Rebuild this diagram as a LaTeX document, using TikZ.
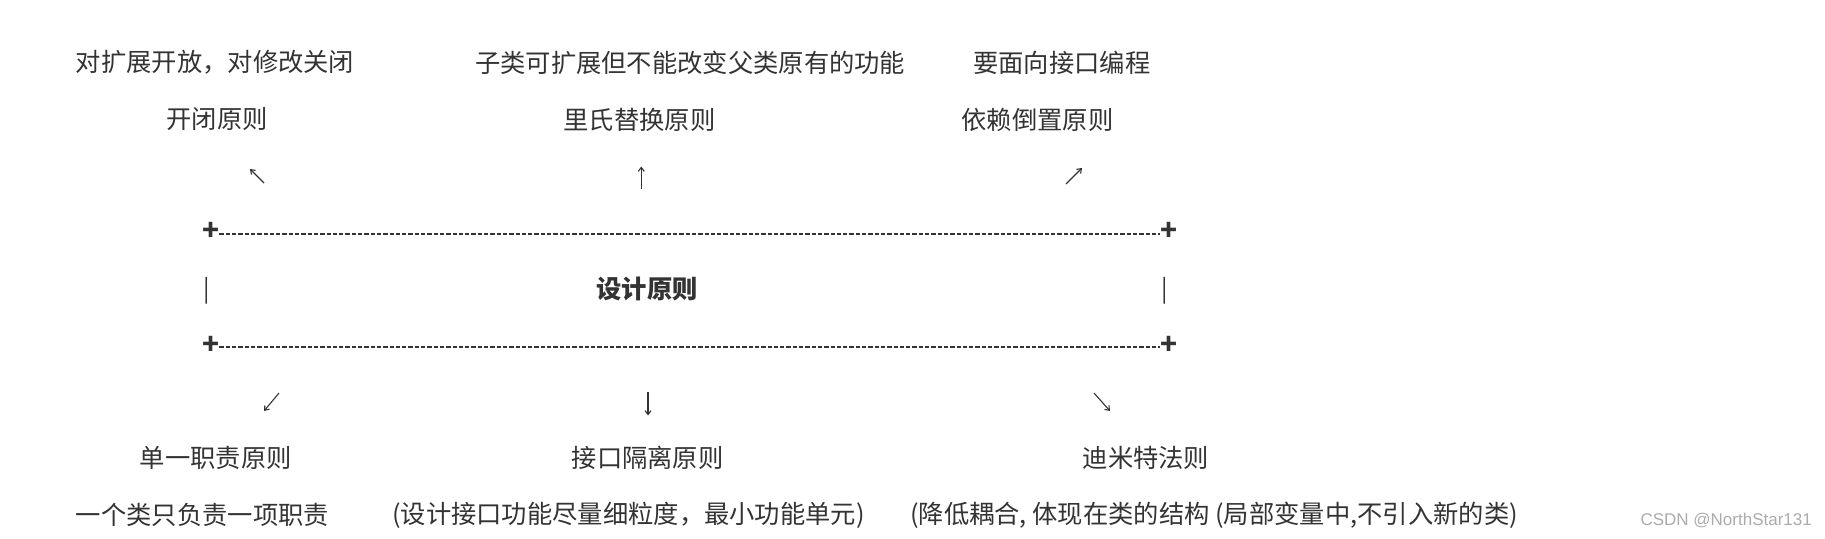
\documentclass[tikz,border=0pt]{standalone}
\usepackage{fontspec}
\setmainfont{Noto Sans CJK SC}
\newfontfamily\wmfont{Liberation Sans}
\usetikzlibrary{arrows.meta}
\definecolor{ink}{HTML}{333333}
\definecolor{wmgray}{HTML}{ABABAB}
\begin{document}
\begin{tikzpicture}[x=1pt,y=-1pt,
  txt/.style={inner sep=0pt, anchor=west, text=ink, font=\fontsize{25.3}{30}\selectfont},
  boldtxt/.style={inner sep=0pt, text=ink, font=\fontsize{25.3}{30}\selectfont\bfseries},
  plus/.style={inner sep=0pt, text=ink, font=\fontsize{28}{32}\selectfont\bfseries},
  bar/.style={inner sep=0pt, text=ink, font=\fontsize{24}{28}\selectfont},
  dashline/.style={draw=ink, line width=2.3pt, dash pattern=on 4.3pt off 2pt},
  arr/.style={draw=ink, line width=1.1pt, -{Straight Barb[length=4pt,width=6pt]}},
  wmark/.style={inner sep=0pt, anchor=east, text=wmgray, font=\wmfont\fontsize{17}{19}\selectfont}]
\useasboundingbox (0,0) rectangle (1825,538);

% top descriptions
\node[txt] (d1) at (75.7,62.5) {对扩展开放，对修改关闭};
\node[txt] (d2) at (474.9,62.5) {子类可扩展但不能改变父类原有的功能};
\node[txt] (d3) at (973,62.5) {要面向接口编程};
% top principles
\node[txt] (p1) at (166.4,119.5) {开闭原则};
\node[txt] (p2) at (563.3,119.5) {里氏替换原则};
\node[txt] (p3) at (961.4,119.5) {依赖倒置原则};

% top arrows
\coordinate (a1t) at (264,183); \coordinate (a1h) at (250,169);
\coordinate (a2t) at (641.3,189); \coordinate (a2h) at (641.3,166.5);
\coordinate (a3t) at (1066,184); \coordinate (a3h) at (1082,168);
\draw[arr] (a1t) -- (a1h);
\draw[arr] (a2t) -- (a2h);
\draw[arr] (a3t) -- (a3h);

% box
\node[plus] (tl) at (210.7,231.7) {+};
\node[plus] (tr) at (1168.6,231.7) {+};
\node[plus] (bl) at (210.7,345) {+};
\node[plus] (br) at (1168.6,345) {+};
\draw[dashline] ([yshift=-2pt]tl.east) -- ([yshift=-2pt]tr.west);
\draw[dashline] ([yshift=-2pt]bl.east) -- ([yshift=-2pt]br.west);
\node[bar] (vl) at (207,290.7) {|};
\node[bar] (vr) at (1165,290.7) {|};
\node[boldtxt] (center) at (647,288.6) {设计原则};

% bottom arrows
\coordinate (b1t) at (279,393); \coordinate (b1h) at (264,411);
\coordinate (b2t) at (648,392); \coordinate (b2h) at (648,415.5);
\coordinate (b3t) at (1094,393); \coordinate (b3h) at (1110,411);
\draw[arr] (b1t) -- (b1h);
\draw[arr] (b2t) -- (b2h);
\draw[arr] (b3t) -- (b3h);

% bottom principles
\node[txt] (q1) at (139.7,458) {单一职责原则};
\node[txt] (q2) at (571.5,458) {接口隔离原则};
\node[txt] (q3) at (1082.5,458) {迪米特法则};
% bottom descriptions
\node[txt] (e1) at (75.7,515) {一个类只负责一项职责};
\node[txt] (e2) at (392,515) {(设计接口功能尽量细粒度，最小功能单元)};
\node[txt] (e3) at (910,515) {(降低耦合, 体现在类的结构 (局部变量中,不引入新的类)};

% watermark
\node[wmark] (wm) at (1812,521) {CSDN @NorthStar131};
\end{tikzpicture}
\end{document}
